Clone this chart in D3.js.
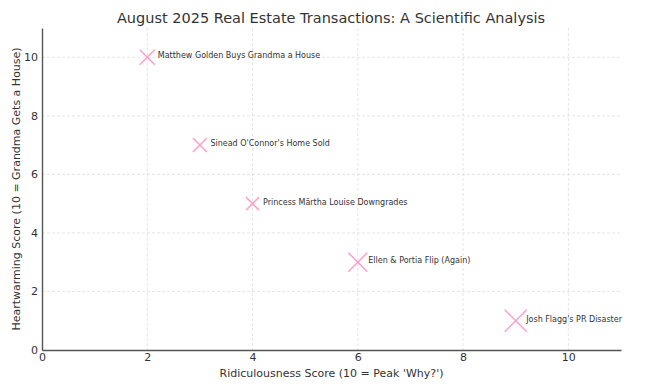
<!DOCTYPE html>
<html>
<head>
<meta charset="utf-8">
<script src="https://cdn.jsdelivr.net/npm/d3@7"></script>
<style>
  body { margin: 0; background: #fff; }
  text { font-family: "DejaVu Sans", sans-serif; }
</style>
</head>
<body>
<svg id="chart" width="649" height="387"></svg>
<script>
const events = ["Matthew Golden Buys Grandma a House", "Sinead O'Connor's Home Sold",
  "Princess Märtha Louise Downgrades", "Ellen & Portia Flip (Again)", "Josh Flagg's PR Disaster"]
const ridiculousness = [2, 3, 4, 6, 9]
const heartwarming = [10, 7, 5, 3, 1]
const markerSize = [15, 14, 13, 19, 22]
const xTicks = [0, 2, 4, 6, 8, 10]
const yTicks = [0, 2, 4, 6, 8, 10]

const svg = d3.select('#chart')
const margin = { top: 28, left: 42, right: 28, bottom: 37 }
const width = 649 - margin.left - margin.right
const height = 387 - margin.top - margin.bottom

const x = d3.scaleLinear().domain([0, 11]).range([0, width])
const y = d3.scaleLinear().domain([0, 11]).range([height, 0])

const g = svg.append('g')
  .attr('transform', `translate(${margin.left},${margin.top})`)

// grid
g.append('g').selectAll('line').data(xTicks.slice(1)).enter().append('line')
  .attr('x1', d => x(d)).attr('x2', d => x(d))
  .attr('y1', 0).attr('y2', height)
  .attr('stroke', '#dedede').attr('stroke-width', 0.8).attr('stroke-dasharray', '3,2')
g.append('g').selectAll('line').data(yTicks.slice(1)).enter().append('line')
  .attr('y1', d => y(d)).attr('y2', d => y(d))
  .attr('x1', 0).attr('x2', width)
  .attr('stroke', '#dedede').attr('stroke-width', 0.8).attr('stroke-dasharray', '3,2')

// axes
const xAxis = g.append('g')
  .attr('transform', `translate(0,${height})`)
  .call(d3.axisBottom(x).tickValues(xTicks).tickSize(0).tickPadding(3))
const yAxis = g.append('g')
  .call(d3.axisLeft(y).tickValues(yTicks).tickSize(0).tickPadding(4))
;[xAxis, yAxis].forEach(a => {
  a.select('.domain').attr('stroke', '#555').attr('stroke-width', 1.4)
  a.selectAll('text').attr('font-size', 11).attr('fill', '#333')
    .style('font-family', '"DejaVu Sans", sans-serif')
})

// markers
const data = events.map((e, i) => ({
  name: e, x: ridiculousness[i], y: heartwarming[i], s: markerSize[i]
}))
const pts = g.append('g').selectAll('g').data(data).enter().append('g')
  .attr('transform', d => `translate(${x(d.x)},${y(d.y)})`)
pts.append('path')
  .attr('d', d => {
    const h = d.s / 2
    return `M${-h},${-h}L${h},${h}M${-h},${h}L${h},${-h}`
  })
  .attr('stroke', '#ff9fcb').attr('stroke-width', 1.5).attr('fill', 'none')
pts.append('text')
  .attr('x', 10.5)
  .attr('y', 1)
  .attr('font-size', 8)
  .attr('fill', '#333')
  .text(d => d.name)

// title and labels
svg.append('text')
  .attr('x', 331).attr('y', 23)
  .attr('text-anchor', 'middle').attr('font-size', 14.5).attr('fill', '#333')
  .text('August 2025 Real Estate Transactions: A Scientific Analysis')
svg.append('text')
  .attr('x', margin.left + width / 2).attr('y', 377)
  .attr('text-anchor', 'middle').attr('font-size', 11).attr('fill', '#333')
  .text("Ridiculousness Score (10 = Peak 'Why?')")
svg.append('text')
  .attr('transform', `translate(20,${margin.top + height / 2}) rotate(-90)`)
  .attr('text-anchor', 'middle').attr('font-size', 11).attr('fill', '#333')
  .text('Heartwarming Score (10 = Grandma Gets a House)')
</script>
</body>
</html>
